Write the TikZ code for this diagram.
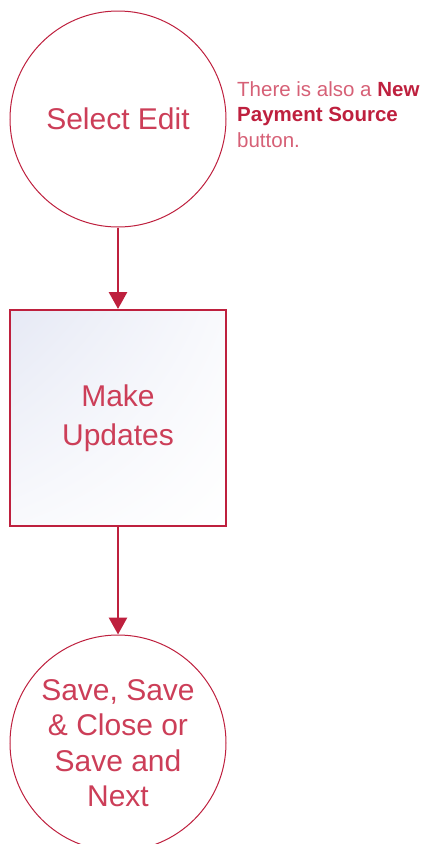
\documentclass[tikz,border=0pt]{standalone}
\usepackage{fontspec}
\setmainfont{Liberation Sans}
\usetikzlibrary{arrows.meta,shadings}
\definecolor{edge}{RGB}{190,32,62}
\definecolor{label}{RGB}{204,62,88}
\definecolor{note}{RGB}{214,96,118}
\definecolor{tint}{RGB}{230,233,245}
\begin{document}
\begin{tikzpicture}[x=1pt, y=-1pt,
    step circ/.style={circle, draw=edge, line width=1pt, minimum size=216pt, inner sep=0pt,
      text=label, align=center, font=\fontsize{30}{35.5}\selectfont},
    step box/.style={rectangle, draw=edge, line width=2pt, minimum size=216pt, inner sep=0pt,
      text=label, align=center, font=\fontsize{30}{39}\selectfont,
      upper left=tint, upper right=tint!25!white, lower left=tint!25!white, lower right=white},
    flow/.style={draw=edge, line width=2.8pt, -{Triangle[width=18pt, length=17pt]}}]
    \useasboundingbox (0,0) rectangle (434,844);

    \node[step circ] (edit) at (118, 119) {Select Edit};
    \node[step box] (updates) at (118, 418) {Make\\Updates};
    \node[step circ] (save) at (118, 743) {Save, Save\\\& Close or\\Save and\\Next};

    \node[anchor=north west, align=left, inner sep=0pt, text=note,
      font=\fontsize{20.5}{25.5}\selectfont] (hint) at (237, 81)
      {There is also a \textcolor{edge}{\textbf{New}}\\
       \textcolor{edge}{\textbf{Payment Source}}\\
       button.};

    \draw[flow] (edit) -- (updates);
    \draw[flow] (updates) -- (save);
  \end{tikzpicture}
\end{document}
